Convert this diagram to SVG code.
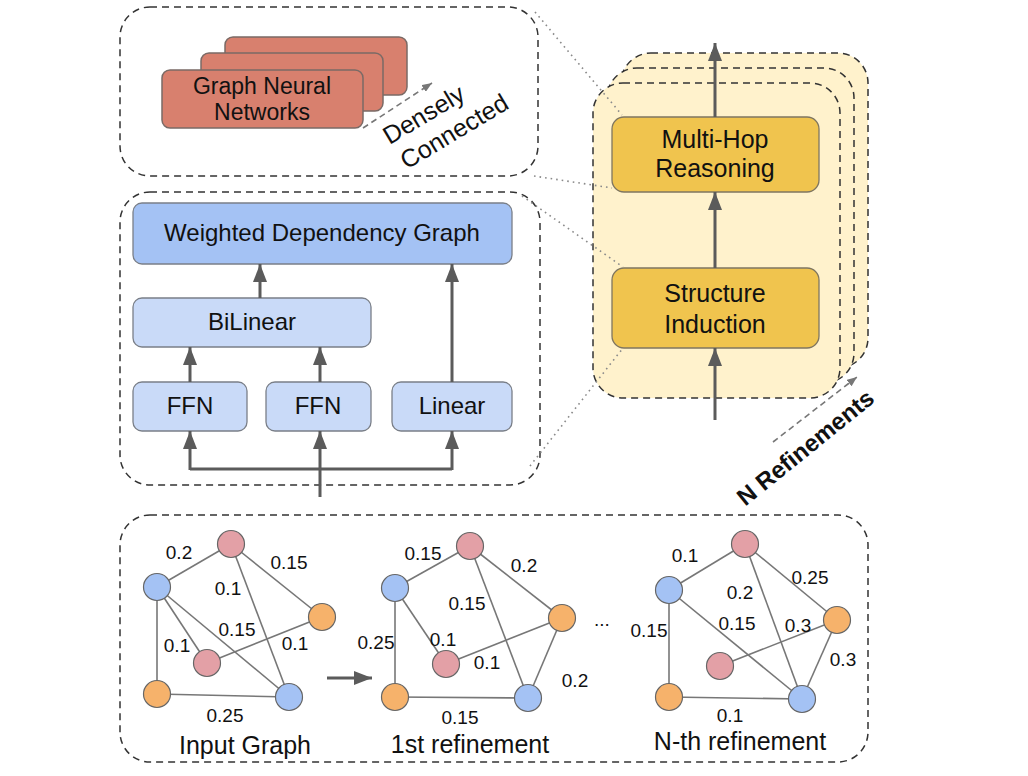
<svg xmlns="http://www.w3.org/2000/svg" width="1028" height="776" viewBox="0 0 1028 776">
<defs>
<style>
text{font-family:"Liberation Sans",Arial,sans-serif;fill:#111;}
.dash{fill:none;stroke:#333;stroke-width:1.5;stroke-dasharray:7 5;}
.ylbg{fill:#fff2cc;stroke:#333;stroke-width:1.5;stroke-dasharray:7 5;}
.gnn{fill:#d8806e;stroke:#7a6a66;stroke-width:1.5;}
.wdg{fill:#a4c2f4;stroke:#7a7f88;stroke-width:1.3;}
.lb{fill:#c9daf8;stroke:#7a7f88;stroke-width:1.3;}
.yb{fill:#f0c44e;stroke:#7f7660;stroke-width:1.3;}
.arr{fill:none;stroke:#5b5b5b;stroke-width:3;marker-end:url(#ah);}
.ln{fill:none;stroke:#5b5b5b;stroke-width:3;}
.dot{fill:none;stroke:#8a8a8a;stroke-width:1.6;stroke-dasharray:1.6 4;}
.darr{fill:none;stroke:#777;stroke-width:1.6;stroke-dasharray:6 4;marker-end:url(#sh);}
.e{stroke:#777;stroke-width:1.6;}
.pk{fill:#e3a0a6;stroke:#666;stroke-width:1.2;}
.bl{fill:#a4c2f4;stroke:#666;stroke-width:1.2;}
.or{fill:#f6b26b;stroke:#666;stroke-width:1.2;}
.t25{font-size:25px;}
.t24{font-size:24px;}
.t23{font-size:23px;}
.w{font-size:19px;}
</style>
<marker id="ah" markerUnits="userSpaceOnUse" viewBox="0 0 18 14" markerWidth="18" markerHeight="14" refX="18" refY="7" orient="auto"><path d="M0,0 L18,7 L0,14 z" fill="#5b5b5b"/></marker>
<marker id="sh" markerUnits="userSpaceOnUse" viewBox="0 0 10 8" markerWidth="10" markerHeight="8" refX="10" refY="4" orient="auto"><path d="M0,0 L10,4 L0,8 z" fill="#777"/></marker>
</defs>
<rect width="1028" height="776" fill="#fff"/>

<!-- Top GNN panel -->
<g id="gnn-panel">
<rect class="dash" x="120" y="7" width="418" height="169" rx="30"/>
<rect class="gnn" x="225" y="37" width="182" height="58" rx="8"/>
<rect class="gnn" x="201" y="53" width="182" height="58" rx="8"/>
<rect class="gnn" x="162" y="70" width="201" height="58" rx="8"/>
<text class="t23" x="262" y="94" text-anchor="middle">Graph Neural</text>
<text class="t23" x="262" y="120" text-anchor="middle">Networks</text>
<text class="t25" transform="translate(424,115) rotate(-31)" x="0" y="8" text-anchor="middle">Densely</text>
<text class="t25" transform="translate(454,131) rotate(-31)" x="0" y="9" text-anchor="middle">Connected</text>
</g>

<!-- Structure induction panel -->
<g id="si-panel">
<rect class="dash" x="120" y="192" width="420" height="293" rx="30"/>
</g>
<g id="wdg"><rect class="wdg" x="133" y="203" width="379" height="61" rx="9"/><text class="t24" x="322" y="241" text-anchor="middle">Weighted Dependency Graph</text></g>
<g id="bilinear"><rect class="lb" x="133" y="298" width="238" height="49" rx="9"/><text class="t24" x="252" y="330" text-anchor="middle">BiLinear</text></g>
<g id="ffn1"><rect class="lb" x="133" y="382" width="114" height="49" rx="9"/><text class="t24" x="190" y="414" text-anchor="middle">FFN</text></g>
<g id="ffn2"><rect class="lb" x="266" y="382" width="105" height="49" rx="9"/><text class="t24" x="318" y="414" text-anchor="middle">FFN</text></g>
<g id="linear"><rect class="lb" x="392" y="382" width="120" height="49" rx="9"/><text class="t24" x="452" y="414" text-anchor="middle">Linear</text></g>

<!-- Yellow stacked module -->
<g id="module-stack">
<rect class="ylbg" x="621" y="53" width="247" height="315" rx="30"/>
<rect class="ylbg" x="607" y="68" width="247" height="315" rx="30"/>
<rect class="ylbg" x="593" y="83" width="247" height="315" rx="30"/>
</g>
<g id="multihop"><rect class="yb" x="612" y="117" width="207" height="75" rx="12"/><text class="t25" x="715" y="148" text-anchor="middle">Multi-Hop</text><text class="t25" x="715" y="177" text-anchor="middle">Reasoning</text></g>
<g id="structure"><rect class="yb" x="612" y="268" width="207" height="80" rx="12"/><text class="t25" x="715" y="302" text-anchor="middle">Structure</text><text class="t25" x="715" y="333" text-anchor="middle">Induction</text></g>
<g id="nref-label">
<text transform="translate(805,447) rotate(-39)" x="0" y="9" text-anchor="middle" style="font-size:24px;font-weight:bold">N Refinements</text>
</g>

<!-- Bottom graphs panel -->
<g id="graph-panel">
<rect class="dash" x="120" y="515" width="748" height="247" rx="30"/>
</g>

<g id="input-graph">
<line class="e" x1="157" y1="587" x2="231" y2="544"/>
<line class="e" x1="231" y1="544" x2="322" y2="617"/>
<line class="e" x1="231" y1="544" x2="289" y2="697"/>
<line class="e" x1="157" y1="587" x2="207" y2="663"/>
<line class="e" x1="157" y1="587" x2="289" y2="697"/>
<line class="e" x1="207" y1="663" x2="322" y2="617"/>
<line class="e" x1="157" y1="587" x2="157" y2="694"/>
<line class="e" x1="157" y1="694" x2="289" y2="697"/>
<circle class="pk" cx="231" cy="544" r="13.5"/>
<circle class="bl" cx="157" cy="587" r="13.5"/>
<circle class="or" cx="322" cy="617" r="13.5"/>
<circle class="pk" cx="207" cy="663" r="13.5"/>
<circle class="or" cx="157" cy="694" r="13.5"/>
<circle class="bl" cx="289" cy="697" r="13.5"/>
<text class="w" x="179" y="559" text-anchor="middle">0.2</text>
<text class="w" x="289" y="569" text-anchor="middle">0.15</text>
<text class="w" x="228" y="595" text-anchor="middle">0.1</text>
<text class="w" x="237" y="636" text-anchor="middle">0.15</text>
<text class="w" x="177" y="652" text-anchor="middle">0.1</text>
<text class="w" x="295" y="650" text-anchor="middle">0.1</text>
<text class="w" x="225" y="722" text-anchor="middle">0.25</text>
<text class="t25" x="245" y="754" text-anchor="middle">Input Graph</text>
</g>

<g id="first-refinement">
<line class="e" x1="395" y1="588" x2="470" y2="546"/>
<line class="e" x1="470" y1="546" x2="562" y2="618"/>
<line class="e" x1="470" y1="546" x2="528" y2="698"/>
<line class="e" x1="395" y1="588" x2="446" y2="664"/>
<line class="e" x1="446" y1="664" x2="562" y2="618"/>
<line class="e" x1="395" y1="588" x2="395" y2="697"/>
<line class="e" x1="395" y1="697" x2="528" y2="698"/>
<line class="e" x1="562" y1="618" x2="528" y2="698"/>
<circle class="pk" cx="470" cy="546" r="13.5"/>
<circle class="bl" cx="395" cy="588" r="13.5"/>
<circle class="or" cx="562" cy="618" r="13.5"/>
<circle class="pk" cx="446" cy="664" r="13.5"/>
<circle class="or" cx="395" cy="697" r="13.5"/>
<circle class="bl" cx="528" cy="698" r="13.5"/>
<text class="w" x="423" y="560" text-anchor="middle">0.15</text>
<text class="w" x="524" y="572" text-anchor="middle">0.2</text>
<text class="w" x="467" y="610" text-anchor="middle">0.15</text>
<text class="w" x="376" y="649" text-anchor="middle">0.25</text>
<text class="w" x="443" y="646" text-anchor="middle">0.1</text>
<text class="w" x="487" y="669" text-anchor="middle">0.1</text>
<text class="w" x="575" y="687" text-anchor="middle">0.2</text>
<text class="w" x="460" y="724" text-anchor="middle">0.15</text>
<text class="t25" x="470" y="753" text-anchor="middle">1st refinement</text>
<text class="w" x="594" y="626">...</text>
</g>

<g id="nth-refinement">
<line class="e" x1="669" y1="590" x2="745" y2="544"/>
<line class="e" x1="745" y1="544" x2="837" y2="620"/>
<line class="e" x1="745" y1="544" x2="802" y2="699"/>
<line class="e" x1="669" y1="590" x2="802" y2="699"/>
<line class="e" x1="720" y1="666" x2="837" y2="620"/>
<line class="e" x1="669" y1="590" x2="669" y2="697"/>
<line class="e" x1="669" y1="697" x2="802" y2="699"/>
<line class="e" x1="837" y1="620" x2="802" y2="699"/>
<circle class="pk" cx="745" cy="544" r="13.5"/>
<circle class="bl" cx="669" cy="590" r="13.5"/>
<circle class="or" cx="837" cy="620" r="13.5"/>
<circle class="pk" cx="720" cy="666" r="13.5"/>
<circle class="or" cx="669" cy="697" r="13.5"/>
<circle class="bl" cx="802" cy="699" r="13.5"/>
<text class="w" x="685" y="562" text-anchor="middle">0.1</text>
<text class="w" x="810" y="584" text-anchor="middle">0.25</text>
<text class="w" x="740" y="599" text-anchor="middle">0.2</text>
<text class="w" x="737" y="630" text-anchor="middle">0.15</text>
<text class="w" x="798" y="632" text-anchor="middle">0.3</text>
<text class="w" x="649" y="637" text-anchor="middle">0.15</text>
<text class="w" x="843" y="666" text-anchor="middle">0.3</text>
<text class="w" x="730" y="722" text-anchor="middle">0.1</text>
<text class="t25" x="740" y="750" text-anchor="middle">N-th refinement</text>
</g>

<g id="connectors">
<!-- structure induction internals -->
<polyline class="ln" points="190,469 452,469"/>
<line class="arr" x1="190" y1="470" x2="190" y2="431"/>
<line class="arr" x1="452" y1="470" x2="452" y2="431"/>
<line class="arr" x1="320" y1="497" x2="320" y2="431"/>
<line class="arr" x1="190" y1="382" x2="190" y2="347"/>
<line class="arr" x1="320" y1="382" x2="320" y2="347"/>
<line class="arr" x1="260" y1="298" x2="260" y2="264"/>
<line class="arr" x1="452" y1="382" x2="452" y2="264"/>
<!-- module arrows -->
<line class="arr" x1="715" y1="420" x2="715" y2="348"/>
<line class="arr" x1="715" y1="268" x2="715" y2="192"/>
<line class="arr" x1="715" y1="117" x2="715" y2="43"/>
<!-- between graphs -->
<line class="arr" x1="327" y1="678" x2="372" y2="678"/>
<!-- dashed indicator arrows -->
<line class="darr" x1="363" y1="128" x2="432" y2="83"/>
<line class="darr" x1="773" y1="442" x2="857" y2="377"/>
<!-- dotted zoom lines -->
<line class="dot" x1="535" y1="12" x2="622" y2="115"/>
<line class="dot" x1="534" y1="176" x2="612" y2="188"/>
<line class="dot" x1="522" y1="196" x2="623" y2="267"/>
<line class="dot" x1="530" y1="466" x2="623" y2="348"/>
</g>
</svg>
